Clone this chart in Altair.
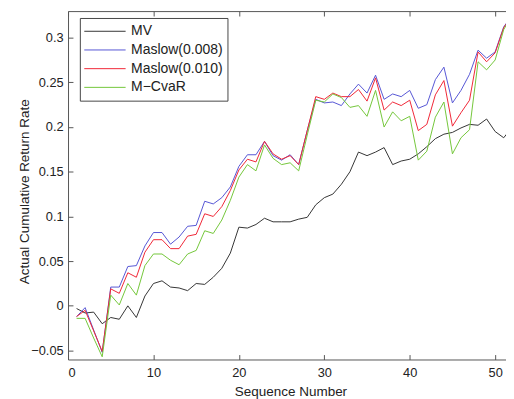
import altair as alt
import pandas as pd

seq = list(range(1, 53))
series_names = ["MV", "Maslow(0.008)", "Maslow(0.010)", "M\u2212CvaR"]
series_colors = ["#333333", "#5555d4", "#f02535", "#72c638"]

mv = [-0.003, -0.008, -0.007, -0.020, -0.013, -0.015, 0.000, -0.013, 0.011, 0.025,
      0.028, 0.021, 0.020, 0.017, 0.025, 0.024, 0.032, 0.042, 0.059, 0.088,
      0.087, 0.091, 0.098, 0.094, 0.094, 0.094, 0.097, 0.099, 0.113, 0.121,
      0.125, 0.136, 0.150, 0.172, 0.168, 0.172, 0.177, 0.158, 0.162, 0.164,
      0.170, 0.178, 0.187, 0.192, 0.194, 0.199, 0.203, 0.202, 0.209, 0.195,
      0.188, 0.200]
maslow008 = [-0.012, -0.002, -0.027, -0.052, 0.021, 0.021, 0.044, 0.045, 0.067, 0.082,
             0.082, 0.069, 0.077, 0.089, 0.090, 0.117, 0.114, 0.121, 0.133, 0.156,
             0.169, 0.169, 0.184, 0.168, 0.163, 0.169, 0.158, 0.196, 0.231, 0.227,
             0.228, 0.224, 0.237, 0.248, 0.238, 0.258, 0.231, 0.237, 0.234, 0.241,
             0.221, 0.225, 0.253, 0.267, 0.227, 0.241, 0.259, 0.286, 0.277, 0.284,
             0.312, 0.325]
maslow010 = [-0.012, -0.005, -0.028, -0.051, 0.019, 0.014, 0.037, 0.032, 0.060, 0.074,
             0.074, 0.064, 0.064, 0.078, 0.080, 0.103, 0.100, 0.111, 0.129, 0.152,
             0.164, 0.161, 0.184, 0.170, 0.164, 0.168, 0.158, 0.196, 0.234, 0.231,
             0.238, 0.234, 0.234, 0.242, 0.229, 0.255, 0.219, 0.228, 0.224, 0.230,
             0.196, 0.203, 0.236, 0.252, 0.201, 0.216, 0.230, 0.284, 0.273, 0.283,
             0.311, 0.325]
mcvar = [-0.014, -0.014, -0.036, -0.057, 0.012, 0.001, 0.025, 0.012, 0.045, 0.058,
         0.058, 0.051, 0.046, 0.058, 0.062, 0.084, 0.081, 0.096, 0.118, 0.144,
         0.158, 0.151, 0.180, 0.165, 0.158, 0.160, 0.151, 0.191, 0.230, 0.228,
         0.237, 0.233, 0.222, 0.224, 0.212, 0.241, 0.200, 0.217, 0.207, 0.212,
         0.163, 0.173, 0.211, 0.228, 0.170, 0.188, 0.197, 0.273, 0.264, 0.275,
         0.309, 0.325]

x_ticks = [0, 10, 20, 30, 40, 50]
y_ticks = [-0.05, 0, 0.05, 0.1, 0.15, 0.2, 0.25, 0.3]

rows = []
for name, vals in zip(series_names, [mv, maslow008, maslow010, mcvar]):
    for s, v in zip(seq, vals):
        rows.append({"seq": s, "value": v, "series": name})
df = pd.DataFrame(rows)

FONT = "Liberation Sans"
TXT = "#222222"
AX = "#555555"

xscale = alt.Scale(domain=[0, 51.27], nice=False, zero=False)
yscale = alt.Scale(domain=[-0.06, 0.3297], nice=False, zero=False)

lines = alt.Chart(df).mark_line(strokeWidth=1, clip=True).encode(
    x=alt.X("seq:Q", scale=xscale,
            axis=alt.Axis(title="Sequence Number", values=x_ticks, grid=False,
                          tickSize={"expr": "-5"}, labelPadding=12.5,
                          titleX=226, titleY=33, titleBaseline="middle")),
    y=alt.Y("value:Q", scale=yscale,
            axis=alt.Axis(title="Actual Cumulative Return Rate", values=y_ticks,
                          format="~g", grid=False, tickSize={"expr": "-5"},
                          labelPadding=10, titleX=-44, titleY=183,
                          titleBaseline="middle")),
    color=alt.Color("series:N",
                    scale=alt.Scale(domain=series_names, range=series_colors),
                    sort=series_names,
                    legend=alt.Legend(title=None, orient="none", legendX=12, legendY=7,
                                      symbolType="stroke", symbolSize=1764,
                                      symbolStrokeWidth=1, clipHeight=19,
                                      rowPadding=0, labelOffset=5, padding=4,
                                      labelFontSize=14.2, labelFont=FONT,
                                      labelColor=TXT, fillColor="white",
                                      strokeColor="#444444")),
    detail="series:N",
)

top_axis = alt.Chart(df).mark_line(opacity=0, clip=True).encode(
    x=alt.X("seq:Q", scale=xscale,
            axis=alt.Axis(orient="top", title=None, labels=False, values=x_ticks,
                          grid=False, tickSize={"expr": "-5"})),
    y=alt.Y("value:Q", scale=yscale, axis=None),
    detail="series:N",
)

chart = alt.layer(lines, top_axis).resolve_axis(x="independent", y="independent").properties(
    width=445, height=354,
    autosize=alt.AutoSizeParams(type="none"),
    padding={"left": 61, "top": 0, "right": 0, "bottom": 37},
).configure_view(stroke=None).configure_axis(
    labelFont=FONT, titleFont=FONT, labelFontSize=13, titleFontSize=13.7,
    labelColor=TXT, titleColor=TXT, titleFontWeight="normal",
    domainColor=AX, tickColor=AX,
)

chart.save("out.html", embed_options={"renderer": "svg", "actions": False})
